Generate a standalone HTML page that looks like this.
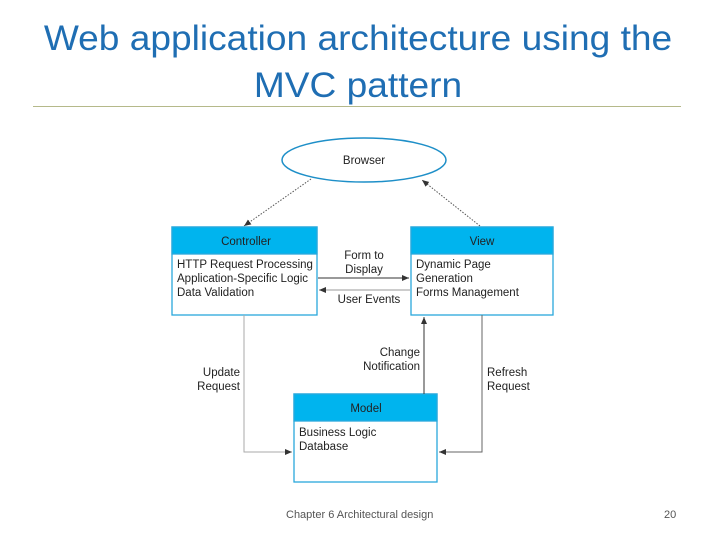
<!DOCTYPE html>
<html><head><style>
body{margin:0;width:720px;height:540px;background:#fff;overflow:hidden;font-family:"Liberation Sans",sans-serif;}
.t{position:absolute;left:0;width:716px;text-align:center;color:#1f6eb3;font-size:35px;line-height:47px;top:15px;transform:scaleX(1.06);transform-origin:358px 0}
</style></head><body>
<div class="t">Web application architecture using the<br>MVC pattern</div>
<div style="position:absolute;left:33px;top:106px;width:648px;height:1px;background:#b5b98a"></div>
<svg width="720" height="540" style="position:absolute;left:0;top:0" font-family="Liberation Sans, sans-serif" font-size="11.5" fill="#222">
<defs><marker id="a" markerWidth="8" markerHeight="8" refX="7" refY="4" orient="auto" markerUnits="userSpaceOnUse"><path d="M0,1 L7,4 L0,7z" fill="#333"/></marker></defs>
<ellipse cx="364" cy="160" rx="82" ry="22" fill="#fff" stroke="#1e8fc8" stroke-width="1.5"/>
<text x="364" y="164" text-anchor="middle">Browser</text>
<line x1="311" y1="179" x2="244" y2="226" stroke="#555" stroke-dasharray="1.5,1.5" marker-end="url(#a)"/>
<line x1="480" y1="226" x2="422" y2="180" stroke="#555" stroke-dasharray="1.5,1.5" marker-end="url(#a)"/>
<g stroke="#2aa8dc" stroke-width="1.3">
<rect x="172" y="227" width="145" height="88" fill="#fff"/><rect x="172" y="227" width="145" height="27" fill="#00b4ee"/>
<rect x="411" y="227" width="142" height="88" fill="#fff"/><rect x="411" y="227" width="142" height="27" fill="#00b4ee"/>
<rect x="294" y="394" width="143" height="88" fill="#fff"/><rect x="294" y="394" width="143" height="27" fill="#00b4ee"/>
</g>
<text x="246" y="245" text-anchor="middle">Controller</text>
<text x="482" y="245" text-anchor="middle">View</text>
<text x="366" y="412" text-anchor="middle">Model</text>
<text x="177" y="268">HTTP Request Processing</text>
<text x="177" y="282">Application-Specific Logic</text>
<text x="177" y="296">Data Validation</text>
<text x="416" y="268">Dynamic Page</text>
<text x="416" y="282">Generation</text>
<text x="416" y="296">Forms Management</text>
<text x="299" y="436">Business Logic</text>
<text x="299" y="450">Database</text>
<line x1="318" y1="278" x2="409" y2="278" stroke="#333" marker-end="url(#a)"/>
<line x1="410" y1="290" x2="319" y2="290" stroke="#999" marker-end="url(#a)"/>
<text x="364" y="259" text-anchor="middle">Form to</text>
<text x="364" y="273" text-anchor="middle">Display</text>
<text x="369" y="303" text-anchor="middle">User Events</text>
<line x1="424" y1="394" x2="424" y2="317" stroke="#333" marker-end="url(#a)"/>
<text x="420" y="356" text-anchor="end">Change</text>
<text x="420" y="370" text-anchor="end">Notification</text>
<polyline points="244,315 244,452 292,452" fill="none" stroke="#aaa" marker-end="url(#a)"/>
<polyline points="482,315 482,452 439,452" fill="none" stroke="#666" marker-end="url(#a)"/>
<text x="240" y="376" text-anchor="end">Update</text>
<text x="240" y="390" text-anchor="end">Request</text>
<text x="487" y="376">Refresh</text>
<text x="487" y="390">Request</text>
</svg>
<div style="position:absolute;left:286px;top:509px;font-size:11px;color:#555">Chapter 6 Architectural design</div>
<div style="position:absolute;left:664px;top:509px;font-size:11px;color:#555">20</div>
</body></html>
